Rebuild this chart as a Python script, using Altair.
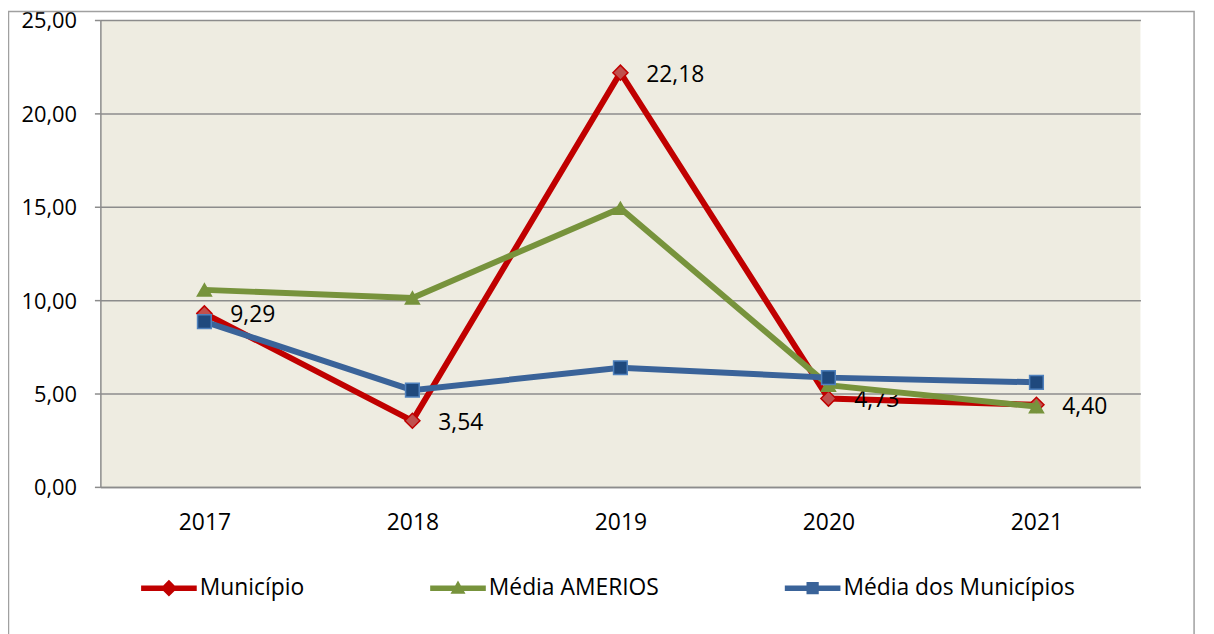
import altair as alt
import pandas as pd

years = ["2017", "2018", "2019", "2020", "2021"]
municipio = [9.29, 3.54, 22.18, 4.73, 4.40]
media_amerios = [10.55, 10.12, 14.92, 5.45, 4.30]
media_municipios = [8.85, 5.18, 6.38, 5.85, 5.60]

series_names = ["Município", "Média AMERIOS", "Média dos Municípios"]
series_values = [municipio, media_amerios, media_municipios]
line_colors = ["#C00000", "#77933C", "#3A6399"]
marker_fills = ["#C0504D", "#77933C", "#1F497D"]
marker_strokes = ["#C00000", "#77933C", "#4F81BD"]
marker_shapes = ["diamond", "triangle-up", "square"]
marker_sizes = [230, 200, 190]

legend_paths = [
    "M-1,-0.1H1V0.1H-1Z M0,-0.3L0.3,0L0,0.3L-0.3,0Z",
    "M-1,-0.1H1V0.1H-1Z M0,-0.28L0.27,0.2H-0.27Z",
    "M-1,-0.1H1V0.1H-1Z M-0.22,-0.22H0.22V0.22H-0.22Z",
]

rows = []
for name, vals in zip(series_names, series_values):
    for yr, v in zip(years, vals):
        rows.append({"ano": yr, "valor": v, "serie": name})
df = pd.DataFrame(rows)

FONT = "Open Sans"
FS = 23

x_enc = alt.X(
    "ano:O",
    scale=alt.Scale(type="point", padding=0.5),
    axis=alt.Axis(title=None, labelAngle=0, ticks=False, labelPadding=25,
                  labelFont=FONT, labelFontSize=FS, labelColor="#000000",
                  domainColor="#8C8C8C", domainWidth=1.5, grid=False),
)
y_enc = alt.Y(
    "valor:Q",
    scale=alt.Scale(domain=[0, 25], nice=False, zero=True),
    axis=alt.Axis(title=None, values=[0, 5, 10, 15, 20, 25],
                  labelExpr="replace(format(datum.value, '.2f'), '.', ',')",
                  labelFont=FONT, labelFontSize=22, labelColor="#000000",
                  labelPadding=18, labelOffset=1, tickSize=6, tickColor="#8C8C8C",
                  tickWidth=1.5, domainColor="#8C8C8C", domainWidth=1.5,
                  gridColor="#8C8C8C", gridWidth=1.5),
)

base = alt.Chart(df)

layers = []
# outer chart border (decoration)
border = alt.Chart(alt.Data(values=[{"k": 1}])).mark_rect(
    fill=None, stroke="#A0A0A0", strokeWidth=1.5, clip=False
).encode(
    x=alt.value(-92.5), x2=alt.value(1101), y=alt.value(-8.5), y2=alt.value(640)
)
layers.append(border)

for i, name in enumerate(series_names):
    sub = base.transform_filter(alt.datum.serie == name)
    layers.append(sub.mark_line(color=line_colors[i], strokeWidth=6).encode(x=x_enc, y=y_enc))
    layers.append(sub.mark_point(shape=marker_shapes[i], filled=True, fill=marker_fills[i],
                                 stroke=marker_strokes[i], strokeWidth=1.5, opacity=1,
                                 size=marker_sizes[i]).encode(x=x_enc, y=y_enc))
    if i == 0:
        layers.append(sub.transform_calculate(
            rotulo="replace(format(datum.valor, '.2f'), '.', ',')"
        ).mark_text(align="left", baseline="middle", dx=26, dy=2, font=FONT,
                    fontSize=FS, color="#000000").encode(x=x_enc, y=y_enc, text="rotulo:N"))

# legend-only layer: no rows survive the filter, the legend comes from the scales
legend_layer = base.transform_filter("datum.valor > 1000").mark_point(
    filled=True, opacity=1
).encode(
    x=x_enc, y=y_enc,
    color=alt.Color("serie:N", sort=series_names,
                    scale=alt.Scale(domain=series_names, range=line_colors),
                    legend=alt.Legend(title=None, orient="none", direction="horizontal",
                                      legendX=41, legendY=544, labelFont=FONT,
                                      labelFontSize=FS, labelColor="#000000",
                                      symbolSize=3136, symbolStrokeWidth=0,
                                      symbolOpacity=1, labelOffset=3, labelLimit=0,
                                      columnPadding=126)),
    shape=alt.Shape("serie:N", sort=series_names,
                    scale=alt.Scale(domain=series_names, range=legend_paths)),
)
layers.append(legend_layer)

chart = alt.layer(*layers).properties(
    width=1047, height=470,
    autosize=alt.AutoSizeParams(type="none"),
    padding={"left": 93, "top": 10, "right": 66, "bottom": 146},
    background="#FFFFFF",
).configure_view(fill="#EEECE1", stroke=None)

chart.save("out.html", embed_options={"renderer": "svg", "actions": False})
